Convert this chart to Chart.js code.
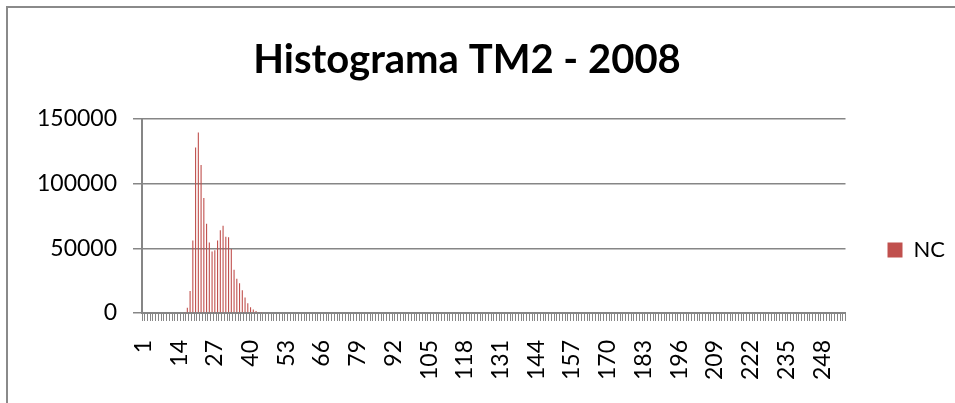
<!DOCTYPE html>
<html>
<head>
<meta charset="utf-8">
<script src="https://cdn.jsdelivr.net/npm/chart.js@4/dist/chart.umd.min.js"></script>
<style>
  html, body { margin: 0; padding: 0; background: #fff; overflow: hidden; }
  #wrap { position: relative; width: 955px; height: 403px; }
  #frame { position: absolute; left: 6px; top: 6px; width: 1200px; height: 800px;
           border: 2px solid #8a8a8a; pointer-events: none; }
  canvas { position: absolute; left: 0; top: 0; }
</style>
</head>
<body>
<div id="wrap">
  <canvas id="histChart" width="955" height="403"></canvas>
  <div id="frame"></div>
</div>
<script>
// Histogram of TM2 values (2008): one bar per class 1..256
const classes = [];
for (let i = 1; i <= 256; i++) classes.push(String(i));

// labels Excel shows on the category axis (every 13th class)
const shownLabels = ['1', '14', '27', '40', '53', '66', '79', '92', '105', '118',
                     '131', '144', '157', '170', '183', '196', '209', '222', '235', '248'];

// NC counts, class 1 first
const ncCounts = [
  0, 0, 0, 0, 0, 0, 0, 0, 0, 0, 0, 0, 0, 0, 0,
  800, 4000, 17000, 56000, 128000, 139500, 114500, 89000, 69000, 54500,
  47500, 48500, 56000, 64000, 67500, 59000, 58500, 49500, 33500, 26500,
  23000, 17500, 12000, 7500, 4500, 2600, 1500, 800, 300,
  0, 0, 0, 0, 0, 0, 0, 0, 0, 0, 0, 0, 0, 0, 0, 0, 0, 0, 0, 0,
  0, 0, 0, 0, 0, 0, 0, 0, 0, 0, 0, 0, 0, 0, 0, 0, 0, 0, 0, 0,
  0, 0, 0, 0, 0, 0, 0, 0, 0, 0, 0, 0, 0, 0, 0, 0, 0, 0, 0, 0,
  0, 0, 0, 0, 0, 0, 0, 0, 0, 0, 0, 0, 0, 0, 0, 0, 0, 0, 0, 0,
  0, 0, 0, 0, 0, 0, 0, 0, 0, 0, 0, 0, 0, 0, 0, 0, 0, 0, 0, 0,
  0, 0, 0, 0, 0, 0, 0, 0, 0, 0, 0, 0, 0, 0, 0, 0, 0, 0, 0, 0,
  0, 0, 0, 0, 0, 0, 0, 0, 0, 0, 0, 0, 0, 0, 0, 0, 0, 0, 0, 0,
  0, 0, 0, 0, 0, 0, 0, 0, 0, 0, 0, 0, 0, 0, 0, 0, 0, 0, 0, 0,
  0, 0, 0, 0, 0, 0, 0, 0, 0, 0, 0, 0, 0, 0, 0, 0, 0, 0, 0, 0,
  0, 0, 0, 0, 0, 0, 0, 0, 0, 0, 0, 0, 0, 0, 0, 0, 0, 0, 0, 0,
  0, 0, 0, 0, 0, 0, 0, 0, 0, 0, 0, 0
];

// value axis ticks
const yTicks = [0, 50000, 100000, 150000];

const axisGray = '#868686';
const fontFamily = 'Lato, "Open Sans", sans-serif';

const ctx = document.getElementById('histChart').getContext('2d');
const histChart = new Chart(ctx, {
    type: 'bar',
    data: {
        labels: classes,
        datasets: [{
            label: 'NC',
            data: ncCounts,
            backgroundColor: '#C0504D',
            borderWidth: 0,
            categoryPercentage: 1.0,
            barPercentage: 0.4
        }]
    },
    options: {
        responsive: false,
        animation: false,
        devicePixelRatio: 1,
        layout: {
            padding: { left: -21, right: 0, top: 0, bottom: 4 }
        },
        plugins: {
            title: {
                display: true,
                text: 'Histograma TM2 - 2008',
                color: '#000',
                font: { family: fontFamily, size: 40, weight: 'bold', lineHeight: 1.2 },
                padding: { top: 36, bottom: 35 }
            },
            legend: {
                position: 'right',
                // blank legend title only pushes the entry down to Excel's height
                title: {
                    display: true,
                    text: ' ',
                    font: { size: 1 },
                    padding: { top: 100, bottom: 0 }
                },
                labels: {
                    boxWidth: 15,
                    boxHeight: 15,
                    padding: 12,
                    color: '#000',
                    font: { family: fontFamily, size: 22 }
                }
            },
            tooltip: { enabled: false }
        },
        scales: {
            x: {
                grid: {
                    display: true,
                    drawOnChartArea: false,
                    drawTicks: true,
                    tickLength: 8,
                    color: axisGray,
                    offset: true
                },
                border: { color: axisGray, width: 2 },
                ticks: {
                    autoSkip: false,
                    minRotation: 90,
                    maxRotation: 90,
                    padding: 19,
                    color: '#000',
                    font: { family: fontFamily, size: 23 },
                    callback: function(value, index) {
                        const lbl = this.getLabelForValue(value);
                        return shownLabels.includes(lbl) ? lbl : '';
                    }
                }
            },
            y: {
                min: yTicks[0],
                max: yTicks[yTicks.length - 1],
                afterFit: function(scale) { scale.width = 163; },
                grid: {
                    color: axisGray,
                    lineWidth: 1.5,
                    tickLength: 9
                },
                border: { color: axisGray, width: 2 },
                afterBuildTicks: function(axis) {
                    axis.ticks = yTicks.map(v => ({ value: v }));
                },
                ticks: {
                    padding: 16,
                    color: '#000',
                    font: { family: fontFamily, size: 23 },
                    callback: function(value) { return String(value); }
                }
            },
            // empty right-hand scale: only keeps the gap between plot and legend
            gap: {
                type: 'linear',
                position: 'right',
                display: true,
                afterFit: function(scale) { scale.width = 30; },
                grid: { display: false, drawTicks: false },
                border: { display: false },
                ticks: { display: false }
            }
        }
    }
});
</script>
</body>
</html>
